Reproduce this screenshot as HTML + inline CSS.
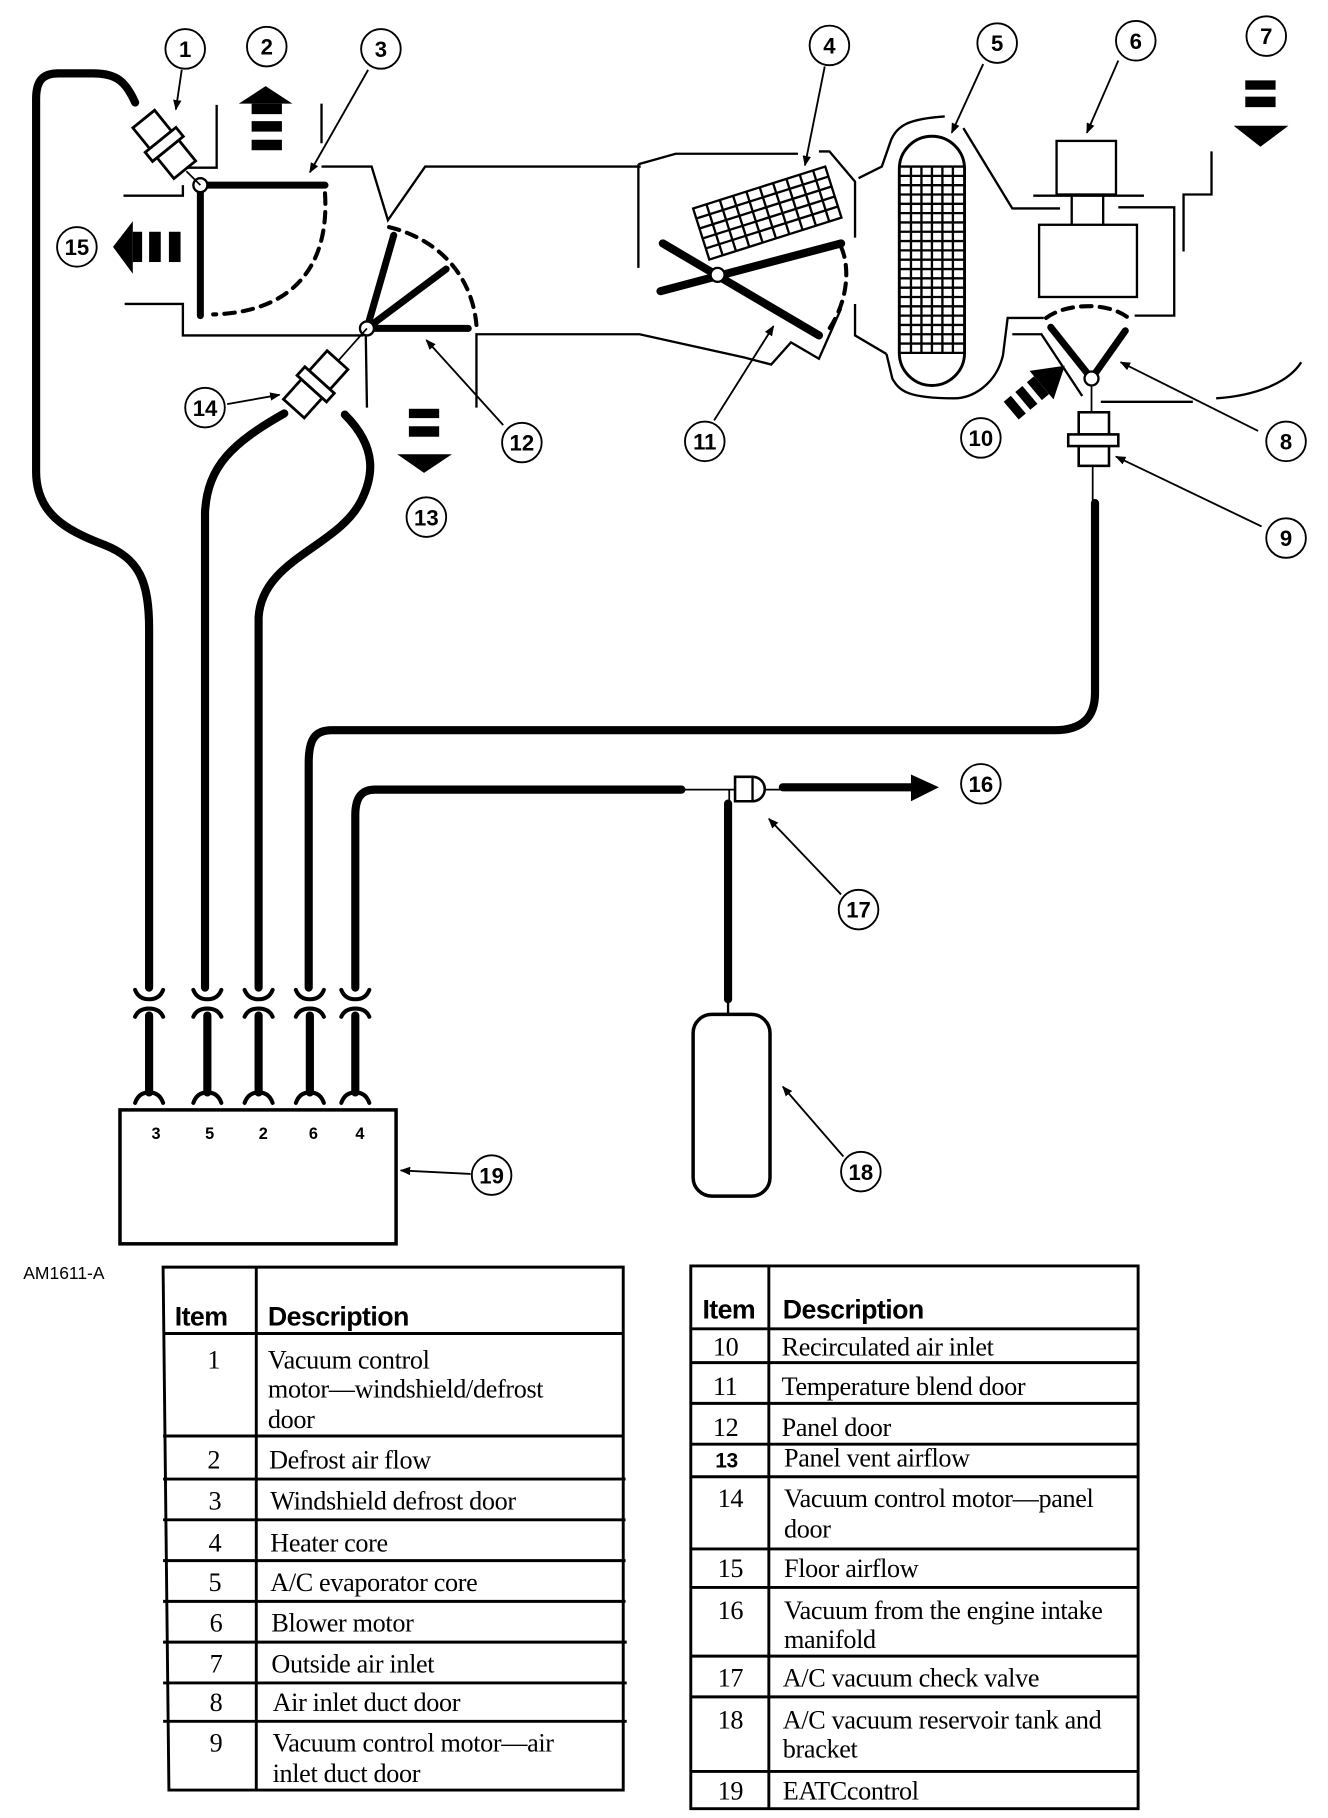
<!DOCTYPE html>
<html><head><meta charset="utf-8"><style>
html,body{margin:0;padding:0;background:#fff}
svg{display:block}
.c{fill:#fff;stroke:#000;stroke-width:1.6}
.n{font-family:"Liberation Sans",sans-serif;font-weight:bold;font-size:19px;text-anchor:middle}
.t{font-family:"Liberation Serif",serif;font-size:22.5px;letter-spacing:-0.3px}
.h{font-family:"Liberation Sans",sans-serif;font-weight:bold;font-size:23px;letter-spacing:-0.5px}
</style></head><body>
<svg width="1328" height="1818" viewBox="0 0 1140 1561" preserveAspectRatio="none" xmlns="http://www.w3.org/2000/svg">
<defs><marker id="a" viewBox="0 0 10 10" refX="9" refY="5" markerWidth="9" markerHeight="9" orient="auto" markerUnits="userSpaceOnUse"><path d="M0,1 L10,5 L0,9z"/></marker></defs>
<rect width="1140" height="1561" fill="#fff"/>
<g fill="none" stroke="#000" stroke-width="2">
<path d="M106,168 H157 V159"/><path d="M186,90 V144 H160"/>
<path d="M276,89 V123"/><path d="M276,143 H319 L333,189 L365,143 H550"/>
<path d="M107,261 H157 V288 H312"/>
<path d="M409,350 V287 H549 L639,307 L662,313 L679,294 L703,308 L722,265"/>
<path d="M314,288 L315,350"/>
<path d="M548,141 V230"/><path d="M548,141 L580,132 H685"/>
<path d="M703,130 H712 L734,156 V204"/><path d="M734,261 V288 L761,304"/>
<path d="M737,153 L757,143 L765,120 C770,108 780,102 811,100"/>
<path d="M827,110 L869,179 H910"/>
<path d="M761,304 L766,325 C772,336 780,342 819,342 C835,342 855,330 861,305 L865,273 H896"/>
<rect x="907" y="121" width="51" height="46"/><path d="M887,168 H982"/>
<path d="M920,168 V193 M947,168 V193"/><rect x="892" y="193" width="84" height="62"/>
<path d="M960,178 H1008 V271 H974"/><path d="M1016,216 V167 H1040 V130"/>
<path d="M869,287 H894 L929,340"/><path d="M945,345 H1024"/>
<path d="M1044,342 C1075,340 1105,330 1117,311"/>
<rect x="772" y="117" width="56" height="214" rx="28" stroke-width="2.5"/>
<rect x="595" y="871" width="66" height="156" rx="16" stroke-width="3"/>
<rect x="103" y="953" width="237" height="115" stroke-width="3"/>
</g>
<g stroke="#000" stroke-width="2">
<path d="M773,143 H827 M773,151 H827 M773,159 H827 M773,167 H827 M773,175 H827 M773,183 H827 M773,191 H827 M773,199 H827 M773,207 H827 M773,215 H827 M773,223 H827 M773,231 H827 M773,239 H827 M773,247 H827 M773,255 H827 M773,263 H827 M773,271 H827 M773,279 H827 M773,287 H827 M773,295 H827 M773,303 H827"/>
<path d="M782,143 V303 M791,143 V303 M800,143 V303 M809,143 V303 M818,143 V303"/>
</g>
<g transform="translate(595,179) rotate(-17.6)" stroke="#000" stroke-width="2" fill="none">
<rect x="0" y="0" width="119" height="46"/>
<path d="M0,9 H119 M0,18 H119 M0,27 H119 M0,36 H119"/>
<path d="M12,0 V46 M24,0 V46 M36,0 V46 M48,0 V46 M60,0 V46 M72,0 V46 M84,0 V46 M96,0 V46 M108,0 V46"/>
</g>
<g stroke="#000" stroke-linecap="round" fill="none">
<path d="M279,159 H172 V271" stroke-width="6"/>
<path d="M279,166 C283,230 250,268 183,270" stroke-width="3.5" stroke-dasharray="9,7"/>
<path d="M315,282 L338,202 M315,282 L383,231 M315,282 H402" stroke-width="6"/>
<path d="M334,195 C375,205 405,235 409,279" stroke-width="3.5" stroke-dasharray="9,7"/>
<path d="M569,209 L703,288 M567,250 L722,209" stroke-width="7"/>
<path d="M722,212 C730,230 728,260 710,285" stroke-width="3.5" stroke-dasharray="9,7"/>
<path d="M898,273 C915,260 955,258 972,276" stroke-width="3.5" stroke-dasharray="9,7"/>
<path d="M902,281 L937,325 L966,284" stroke-width="6"/>
</g>
<g fill="#fff" stroke="#000" stroke-width="2">
<circle cx="172" cy="159" r="6"/><circle cx="315" cy="282" r="6"/><circle cx="616" cy="236" r="6"/><circle cx="937" cy="325" r="6"/>
</g>
<g stroke="#000" stroke-width="1.5">
<path d="M160,147 L172,159"/><path d="M315,282 L283,318"/><path d="M937,331 V354"/><path d="M938,400 V432"/>
<path d="M585,678 H630 M626,678 V690 M655,678 H672"/>
</g>
<g fill="none" stroke="#000" stroke-width="7" stroke-linecap="round">
<path d="M116,88 C108,70 100,63 80,63 H50 C36,63 31,70 31,85 V405 C31,440 55,455 90,468 C120,480 128,500 128,540 V848"/>
<path d="M244,355 C200,380 178,400 176,440 V848"/>
<path d="M296,356 C325,385 320,410 310,430 C290,470 225,480 222,530 V848"/>
<path d="M940,432 V595 C940,615 930,627 905,627 H285 C270,627 265,635 265,655 V848"/>
<path d="M585,678 H322 C310,678 305,685 305,700 V848"/>
<path d="M625,690 V858"/>
<path d="M672,676 H782"/>
<path d="M128,872 V938 M178,872 V938 M222,872 V938 M266,872 V938 M305,872 V938"/>
</g>
<path d="M782,665 L806,676 L782,688z"/>
<path d="M625,858 V871" stroke="#000" stroke-width="2"/>
<g fill="none" stroke="#000" stroke-width="3.5" stroke-linecap="round">
<path d="M116,850 Q119,858 128,858 Q137,858 140,850 M166,850 Q169,858 178,858 Q187,858 190,850 M210,850 Q213,858 222,858 Q231,858 234,850 M254,850 Q257,858 266,858 Q275,858 278,850 M293,850 Q296,858 305,858 Q314,858 317,850"/>
<path d="M116,873 Q119,866 128,866 Q137,866 140,873 M166,873 Q169,866 178,866 Q187,866 190,873 M210,873 Q213,866 222,866 Q231,866 234,873 M254,873 Q257,866 266,866 Q275,866 278,873 M293,873 Q296,866 305,866 Q314,866 317,873"/>
<path d="M116,947 Q119,938 128,938 Q137,938 140,947 M166,947 Q169,938 178,938 Q187,938 190,947 M210,947 Q213,938 222,938 Q231,938 234,947 M254,947 Q257,938 266,938 Q275,938 278,947 M293,947 Q296,938 305,938 Q314,938 317,947"/>
</g>
<path d="M631,667 H646 A10,10 0 0 1 646,688 H631 Z" fill="#fff" stroke="#000" stroke-width="2.2"/>
<path d="M646,667 V688" stroke="#000" stroke-width="2"/>
<g transform="translate(141,124) rotate(51)" fill="#fff" stroke="#000" stroke-width="2.4">
<rect x="-28" y="-12" width="23" height="24"/><rect x="5" y="-12" width="23" height="24"/><rect x="-5" y="-17" width="10" height="34"/>
</g>
<g transform="translate(271,330) rotate(-48)" fill="#fff" stroke="#000" stroke-width="2.4">
<rect x="-28" y="-12" width="23" height="24"/><rect x="5" y="-12" width="23" height="24"/><rect x="-5" y="-17" width="10" height="34"/>
</g>
<g fill="#fff" stroke="#000" stroke-width="2.2">
<rect x="926" y="354" width="26" height="19"/><rect x="926" y="383" width="26" height="17"/><rect x="917" y="373" width="43" height="10"/>
</g>
<g fill="#000">
<path d="M205,89 L228,74 L251,89z"/><rect x="216" y="89" width="26" height="9"/><rect x="216" y="104" width="26" height="9"/><rect x="216" y="120" width="26" height="9"/>
<path d="M97,212 L114,190 L114,235z"/><rect x="114" y="199" width="8" height="26"/><rect x="128" y="199" width="10" height="26"/><rect x="145" y="199" width="10" height="26"/>
<rect x="351" y="351" width="26" height="8"/><rect x="351" y="366" width="26" height="9"/><path d="M341,390 L388,390 L364,406z"/>
<rect x="1069" y="69" width="26" height="8"/><rect x="1069" y="83" width="26" height="9"/><path d="M1059,108 L1106,108 L1082,126z"/>
<g transform="translate(914,314) rotate(-40)"><path d="M0,0 L-26,-16 L-26,16z"/><rect x="-34" y="-10" width="8" height="20"/><rect x="-47" y="-10" width="8" height="20"/><rect x="-60" y="-10" width="8" height="20"/></g>
</g>
<g stroke="#000" stroke-width="1.6" marker-end="url(#a)">
<path d="M156,60 L151,94"/><path d="M316,60 L266,148"/><path d="M708,57 L691,142"/><path d="M844,55 L817,114"/>
<path d="M960,52 L933,114"/><path d="M1080,370 L962,311"/><path d="M1083,452 L958,392"/>
<path d="M613,361 L664,280"/><path d="M432,365 L366,292"/><path d="M195,347 L240,339"/>
<path d="M722,768 L660,703"/><path d="M724,993 L672,933"/><path d="M404,1008 L344,1005"/>
</g>
<g>
<circle class="c" cx="159" cy="42" r="17"/><text class="n" x="159" y="49">1</text>
<circle class="c" cx="229" cy="40" r="17"/><text class="n" x="229" y="47">2</text>
<circle class="c" cx="327" cy="42" r="17"/><text class="n" x="327" y="49">3</text>
<circle class="c" cx="712" cy="39" r="17"/><text class="n" x="712" y="46">4</text>
<circle class="c" cx="856" cy="37" r="17"/><text class="n" x="856" y="44">5</text>
<circle class="c" cx="975" cy="35" r="17"/><text class="n" x="975" y="42">6</text>
<circle class="c" cx="1087" cy="31" r="17"/><text class="n" x="1087" y="38">7</text>
<circle class="c" cx="66" cy="212" r="17"/><text class="n" x="66" y="219">15</text>
<circle class="c" cx="176" cy="350" r="17"/><text class="n" x="176" y="357">14</text>
<circle class="c" cx="448" cy="380" r="17"/><text class="n" x="448" y="387">12</text>
<circle class="c" cx="366" cy="444" r="17"/><text class="n" x="366" y="451">13</text>
<circle class="c" cx="605" cy="379" r="17"/><text class="n" x="605" y="386">11</text>
<circle class="c" cx="842" cy="376" r="17"/><text class="n" x="842" y="383">10</text>
<circle class="c" cx="1104" cy="379" r="17"/><text class="n" x="1104" y="386">8</text>
<circle class="c" cx="1104" cy="462" r="17"/><text class="n" x="1104" y="469">9</text>
<circle class="c" cx="842" cy="673" r="17"/><text class="n" x="842" y="680">16</text>
<circle class="c" cx="737" cy="781" r="17"/><text class="n" x="737" y="788">17</text>
<circle class="c" cx="739" cy="1006" r="17"/><text class="n" x="739" y="1013">18</text>
<circle class="c" cx="422" cy="1009" r="17"/><text class="n" x="422" y="1016">19</text>
</g>
<g font-family="Liberation Sans,sans-serif" font-weight="bold" font-size="14" text-anchor="middle">
<text x="134" y="978">3</text><text x="180" y="978">5</text><text x="226" y="978">2</text><text x="269" y="978">6</text><text x="309" y="978">4</text>
</g>
<text x="20" y="1098" font-family="Liberation Sans,sans-serif" font-size="15">AM1611-A</text>
<g fill="none" stroke="#000" stroke-width="2.5">
<path d="M140,1088 H535 V1537 H145 Z"/><path d="M220,1088 V1537"/>
<path d="M140,1145 H535 M140,1233 H535 M140,1270 H537 M140,1305 H537 M140,1340 H537 M140,1375 H537 M140,1410 H538 M140,1445 H538 M140,1478 H538"/>
</g>
<g>
<text class="h" x="150" y="1138">Item</text><text class="h" x="230" y="1138">Description</text>
<g class="t"><text x="178" y="1175">1</text><text x="230" y="1175">Vacuum control</text><text x="230" y="1200">motor—windshield/defrost</text><text x="230" y="1226">door</text>
<text x="178" y="1261">2</text><text x="231" y="1261">Defrost air flow</text>
<text x="179" y="1296">3</text><text x="232" y="1296">Windshield defrost door</text>
<text x="179" y="1332">4</text><text x="232" y="1332">Heater core</text>
<text x="179" y="1366">5</text><text x="232" y="1366">A/C evaporator core</text>
<text x="180" y="1401">6</text><text x="233" y="1401">Blower motor</text>
<text x="180" y="1436">7</text><text x="233" y="1436">Outside air inlet</text>
<text x="180" y="1469">8</text><text x="234" y="1469">Air inlet duct door</text>
<text x="180" y="1504">9</text><text x="234" y="1504">Vacuum control motor—air</text><text x="234" y="1530">inlet duct door</text></g>
</g>
<g fill="none" stroke="#000" stroke-width="2.5">
<path d="M593,1087 H977 V1553 H593 Z"/><path d="M660,1087 V1553"/>
<path d="M593,1141 H977 M593,1170 H977 M593,1205 H977 M593,1240 H977 M593,1268 H977 M593,1330 H977 M593,1363 H977 M593,1422 H977 M593,1457 H977 M593,1521 H977"/>
</g>
<g>
<text class="h" x="603" y="1132">Item</text><text class="h" x="672" y="1132">Description</text>
<g class="t"><text x="612" y="1164">10</text><text x="671" y="1164">Recirculated air inlet</text>
<text x="612" y="1198">11</text><text x="671" y="1198">Temperature blend door</text>
<text x="612" y="1233">12</text><text x="671" y="1233">Panel door</text>
<text x="614" y="1260" font-family="Liberation Sans,sans-serif" font-weight="bold" font-size="18">13</text><text x="673" y="1259">Panel vent airflow</text>
<text x="616" y="1294">14</text><text x="673" y="1294">Vacuum control motor—panel</text><text x="673" y="1320">door</text>
<text x="616" y="1354">15</text><text x="673" y="1354">Floor airflow</text>
<text x="616" y="1390">16</text><text x="673" y="1390">Vacuum from the engine intake</text><text x="673" y="1415">manifold</text>
<text x="616" y="1448">17</text><text x="672" y="1448">A/C vacuum check valve</text>
<text x="616" y="1484">18</text><text x="672" y="1484">A/C vacuum reservoir tank and</text><text x="672" y="1509">bracket</text>
<text x="616" y="1545">19</text><text x="672" y="1545">EATCcontrol</text></g>
</g>
</svg>
</body></html>
